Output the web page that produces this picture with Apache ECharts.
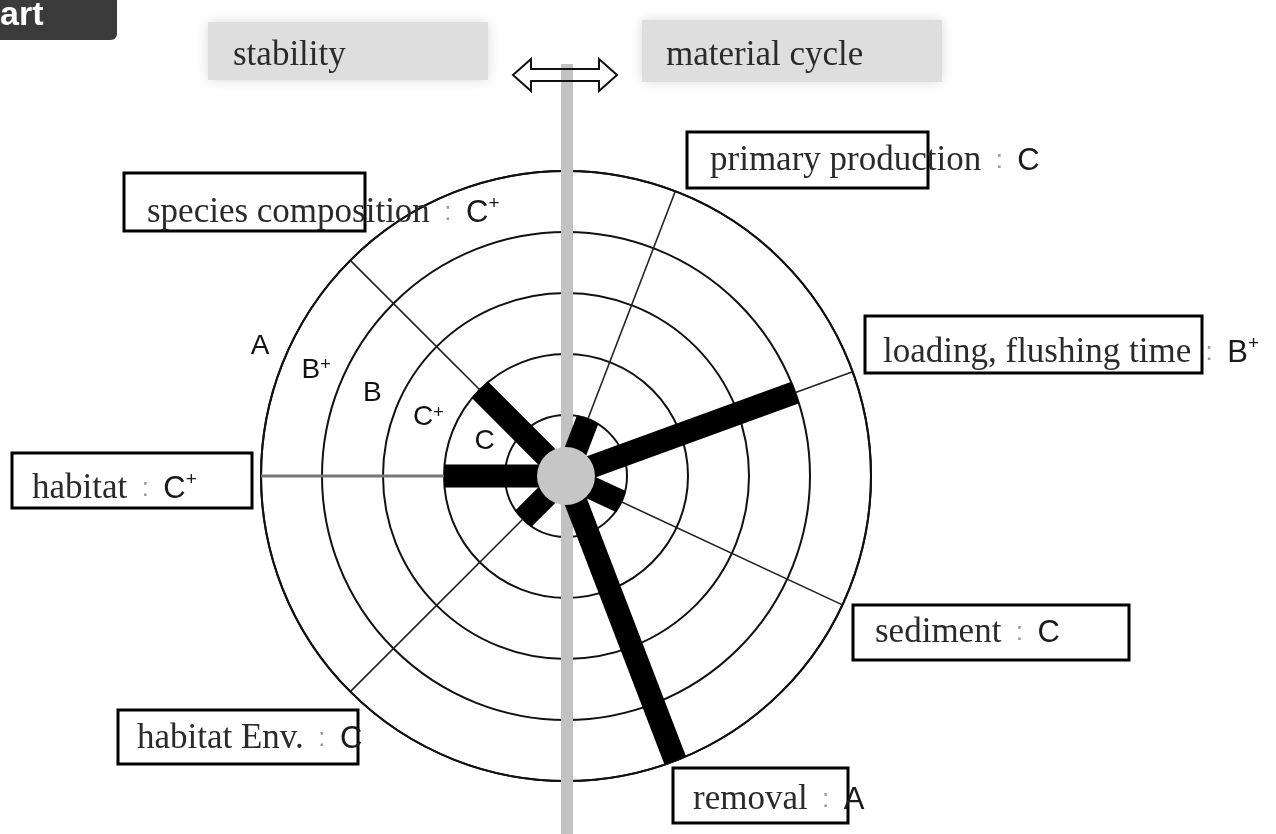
<!DOCTYPE html>
<html>
<head>
<meta charset="utf-8">
<script src="https://cdn.jsdelivr.net/npm/echarts@6/dist/echarts.min.js"></script>
<style>
  html, body { margin: 0; padding: 0; background: #fff; }
  #main { width: 1276px; height: 834px; }
</style>
</head>
<body>
<div id="main"></div>
<script>
// 指標（反時計回りの角度、東 = 0°）
const categories = ['species composition', 'primary production', 'loading, flushing time', 'sediment', 'removal', 'habitat Env.', 'habitat']
const angles = [135, 69, 20, 335, 291, 225, 180]
const grades = ['C+', 'C', 'B+', 'C', 'A', 'C', 'C+']
// 評価の段階 (C = 1 ... A = 5)
const gradeScale = ['C', 'C+', 'B', 'B+', 'A']
const gradeValue = g => gradeScale.indexOf(g) + 1

// ラベル枠の配置
const boxes = [
  { x: 124, y: 173, w: 241, h: 58, tx: 147, ty: 213 },
  { x: 687, y: 132, w: 241, h: 56, tx: 710, ty: 161 },
  { x: 865, y: 316, w: 337, h: 57, tx: 883, ty: 353 },
  { x: 853, y: 605, w: 276, h: 55, tx: 875, ty: 633 },
  { x: 673, y: 768, w: 175, h: 55, tx: 693, ty: 800 },
  { x: 118, y: 710, w: 240, h: 54, tx: 137, ty: 739 },
  { x: 12, y: 453, w: 240, h: 55, tx: 32, ty: 489 }
]

const SERIF = '"Liberation Serif", "Times New Roman", serif'
const SANS = '"Liberation Sans", Arial, sans-serif'

const chart = echarts.init(document.getElementById('main'))

const labelRich = {
  n: { fontFamily: SERIF, fontSize: 35, fill: '#2a2a2a', lineHeight: 38 },
  c: { fontFamily: SANS, fontSize: 26, fill: '#999' },
  g: { fontFamily: SANS, fontSize: 31, fill: '#1a1a1a' },
  s: { fontFamily: SANS, fontSize: 19, fill: '#1a1a1a', verticalAlign: 'top' }
}
const labelText = (name, g) => {
  const base = g.replace('+', '')
  return '{n|' + name + '}{c|  :  }{g|' + base + '}' + (g.indexOf('+') >= 0 ? '{s|+}' : '')
}

const graphic = []
// 中央の縦線
graphic.push({
  type: 'line', z: 1,
  shape: { x1: 567, y1: 64, x2: 567, y2: 834 },
  style: { stroke: '#c2c2c2', lineWidth: 12 }
})
// 左上の黒いタブ
graphic.push({
  type: 'rect', z: 5,
  shape: { x: -10, y: -10, width: 127, height: 50, r: [0, 0, 6, 0] },
  style: { fill: '#3b3b3b' }
})
graphic.push({
  type: 'text', z: 6, x: 0, y: 33,
  style: { text: 'art', font: 'bold 34px ' + SANS, fill: '#fff', verticalAlign: 'bottom' }
})
// 上部の見出し
graphic.push({
  type: 'rect', z: 1,
  shape: { x: 208, y: 22, width: 280, height: 58 },
  style: { fill: '#dedede', shadowBlur: 12, shadowColor: '#dcdcdc' }
})
graphic.push({
  type: 'rect', z: 1,
  shape: { x: 642, y: 20, width: 300, height: 62 },
  style: { fill: '#dedede', shadowBlur: 12, shadowColor: '#dcdcdc' }
})
graphic.push({
  type: 'text', z: 2, x: 233, y: 56,
  style: { text: 'stability', font: '35px ' + SERIF, fill: '#2a2a2a', verticalAlign: 'middle' }
})
graphic.push({
  type: 'text', z: 2, x: 666, y: 56,
  style: { text: 'material cycle', font: '35px ' + SERIF, fill: '#2a2a2a', verticalAlign: 'middle' }
})
// 両向き矢印
graphic.push({
  type: 'polygon', z: 3,
  shape: { points: [[513, 75], [531, 59], [531, 69], [599, 69], [599, 59], [617, 75], [599, 91], [599, 81], [531, 81], [531, 91]] },
  style: { fill: 'rgba(255,255,255,0)', stroke: '#111', lineWidth: 2 }
})
// ラベル枠と文字
categories.forEach((name, i) => {
  const b = boxes[i]
  graphic.push({
    type: 'rect', z: 4,
    shape: { x: b.x, y: b.y, width: b.w, height: b.h },
    style: { fill: 'rgba(255,255,255,0)', stroke: '#000', lineWidth: 3 }
  })
  graphic.push({
    type: 'text', z: 4, x: b.tx, y: b.ty,
    style: { text: labelText(name, grades[i]), rich: labelRich, verticalAlign: 'middle' }
  })
})

const spokeSeries = categories.map((name, i) => ({
  type: 'line',
  coordinateSystem: 'polar',
  symbol: 'none',
  silent: true,
  z: 2,
  lineStyle: { color: angles[i] === 180 ? '#777' : '#222', width: angles[i] === 180 ? 3 : 1.6 },
  data: [[0, angles[i]], [5, angles[i]]]
}))

const barSeries = categories.map((name, i) => ({
  type: 'line',
  name: name,
  coordinateSystem: 'polar',
  symbol: 'none',
  z: 5,
  lineStyle: { color: '#000', width: 23, cap: 'butt' },
  data: [[0, angles[i]], [gradeValue(grades[i]), angles[i]]]
}))

chart.setOption({
  animation: false,
  backgroundColor: '#fff',
  graphic: graphic,
  polar: { center: [566, 476], radius: 305 },
  angleAxis: {
    type: 'value', min: 0, max: 360, startAngle: 0, clockwise: false,
    axisLine: { show: true, lineStyle: { color: '#111', width: 2 } },
    axisTick: { show: false }, axisLabel: { show: false }, splitLine: { show: false }
  },
  radiusAxis: {
    type: 'value', min: 0, max: 5, interval: 1,
    axisLine: { show: false }, axisTick: { show: false }, axisLabel: { show: false },
    splitLine: { show: true, lineStyle: { color: '#111', width: 2 } }
  },
  series: [
    ...spokeSeries,
    ...barSeries,
    {
      // 段階ラベル
      type: 'scatter',
      coordinateSystem: 'polar',
      symbolSize: 0,
      clip: false,
      z: 6,
      itemStyle: { opacity: 1 },
      label: {
        show: true, position: 'inside',
        formatter: p => p.data[2].replace('+', '') + (p.data[2].indexOf('+') >= 0 ? '{s|+}' : ''),
        fontFamily: SANS, fontSize: 28, color: '#111',
        rich: { s: { fontFamily: SANS, fontSize: 18, color: '#111', verticalAlign: 'top' } }
      },
      data: gradeScale.map((g, i) => [i + 1 + 0.45, 157, g])
    },
    {
      // 中心の円
      type: 'scatter',
      coordinateSystem: 'polar',
      symbol: 'circle',
      symbolSize: 58,
      z: 10,
      silent: true,
      itemStyle: { color: '#c6c6c6', opacity: 1 },
      data: [[0, 0]]
    }
  ]
})
</script>
</body>
</html>
